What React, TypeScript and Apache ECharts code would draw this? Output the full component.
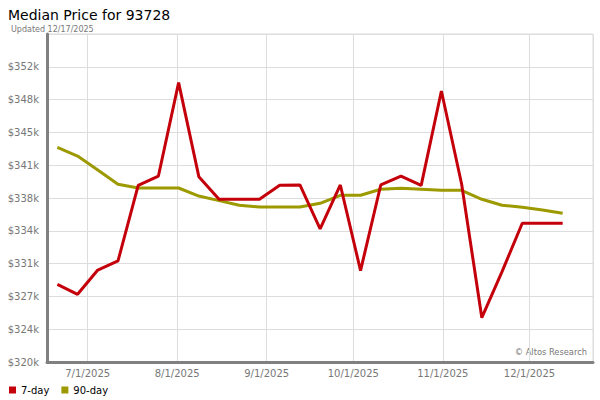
import React, { useEffect, useRef } from "react";
import * as echarts from "echarts";

const dates = [
  "2025-06-20", "2025-06-27", "2025-07-04", "2025-07-11", "2025-07-18", "2025-07-25",
  "2025-08-01", "2025-08-08", "2025-08-15", "2025-08-22", "2025-08-29", "2025-09-05",
  "2025-09-12", "2025-09-19", "2025-09-26", "2025-10-03", "2025-10-10", "2025-10-17",
  "2025-10-24", "2025-10-31", "2025-11-07", "2025-11-14", "2025-11-21", "2025-11-28",
  "2025-12-05", "2025-12-12",
];

const sevenDay = [
  328420, 327340, 329970, 330950, 339150, 340160,
  350280, 340090, 337640, 337640, 337640, 339150,
  339190, 334420, 339190, 329900, 339190, 340160,
  339150, 349380, 339300, 324800, 329790, 335040,
  335040, 335040,
];

const ninetyDay = [
  343270, 342330, 340810, 339260, 338860, 338860,
  338860, 337990, 337490, 336990, 336800, 336800,
  336800, 337200, 338070, 338070, 338720, 338830,
  338720, 338610, 338610, 337640, 336990, 336770,
  336480, 336120,
];

const seriesNames = ["7-day", "90-day"];
const title = "Median Price for 93728";
const subtitle = "Updated 12/17/2025";
const watermark = "\u00A9 Altos Research";

const Y_MIN = 320000;
const Y_STEP = 32000 / 9;
const X_MIN = Date.UTC(2025, 5, 16, 22);
const X_MAX = Date.UTC(2025, 11, 23, 0);

const FONT = "DejaVu Sans";

function toTs(s: string) {
  const [y, m, d] = s.split("-").map(Number);
  return Date.UTC(y, m - 1, d, 12);
}

export default function App() {
  const ref = useRef<HTMLDivElement>(null);
  useEffect(() => {
    if (!ref.current) return;
    const chart = echarts.init(ref.current, null, { renderer: "svg" });
    const mk = (vals: number[]) => dates.map((d, i) => [toTs(d), vals[i]]);
    chart.setOption({
      animation: false,
      backgroundColor: "#fff",
      textStyle: { fontFamily: FONT },
      title: [
        {
          text: title,
          left: 3,
          top: 3,
          textStyle: { fontSize: 14, fontWeight: "normal", color: "#000", fontFamily: FONT },
        },
        {
          text: subtitle,
          left: 6,
          top: 20,
          textStyle: { fontSize: 8, fontWeight: "normal", color: "#777", fontFamily: FONT },
        },
      ],
      legend: {
        left: 4,
        top: 380,
        icon: "rect",
        itemWidth: 7,
        itemHeight: 7,
        itemGap: 12,
        itemStyle: { borderWidth: 0 },
        textStyle: { fontSize: 10, color: "#000", fontFamily: FONT },
        data: seriesNames,
      },
      grid: {
        left: 47,
        right: 7,
        top: 34,
        bottom: 38,
        show: true,
        borderColor: "#ddd",
        borderWidth: 1,
        backgroundColor: "#fff",
      },
      xAxis: {
        type: "time",
        min: X_MIN,
        max: X_MAX,
        splitNumber: 6,
        minInterval: 28 * 86400000,
        axisLine: { show: true, lineStyle: { color: "#808080", width: 3 } },
        axisTick: { show: false },
        splitLine: { show: true, lineStyle: { color: "#ddd", width: 1 } },
        axisLabel: {
          color: "#777",
          fontSize: 10,
          fontFamily: FONT,
          margin: 6,
          hideOverlap: false,
          formatter: (v: number) => {
            const d = new Date(v);
            return `${d.getUTCMonth() + 1}/${d.getUTCDate()}/${d.getUTCFullYear()}`;
          },
        },
      },
      yAxis: {
        type: "value",
        min: Y_MIN,
        max: Y_MIN + 10 * Y_STEP,
        interval: Y_STEP,
        axisLine: { show: true, lineStyle: { color: "#808080", width: 3 } },
        axisTick: { show: false },
        splitLine: { show: true, lineStyle: { color: "#ddd", width: 1 } },
        axisLabel: {
          color: "#777",
          fontSize: 10,
          fontFamily: FONT,
          margin: 8,
          formatter: (v: number) => (v > 353000 ? "" : "$" + Math.round(v / 1000) + "k"),
        },
      },
      graphic: [
        {
          type: "text",
          right: 13,
          top: 348,
          style: { text: watermark, fontSize: 8.3, fill: "#777", fontFamily: FONT },
        },
      ],
      series: [
        {
          name: seriesNames[0],
          type: "line",
          data: mk(sevenDay),
          showSymbol: false,
          symbol: "none",
          lineStyle: { color: "#c4000b", width: 3 },
          itemStyle: { color: "#c4000b" },
          z: 3,
        },
        {
          name: seriesNames[1],
          type: "line",
          data: mk(ninetyDay),
          showSymbol: false,
          symbol: "none",
          lineStyle: { color: "#9c9a00", width: 3 },
          itemStyle: { color: "#9c9a00" },
          z: 2,
        },
      ],
    });
    return () => chart.dispose();
  }, []);
  return <div ref={ref} style={{ width: 600, height: 400, position: "absolute", left: 0, top: 0 }} />;
}
